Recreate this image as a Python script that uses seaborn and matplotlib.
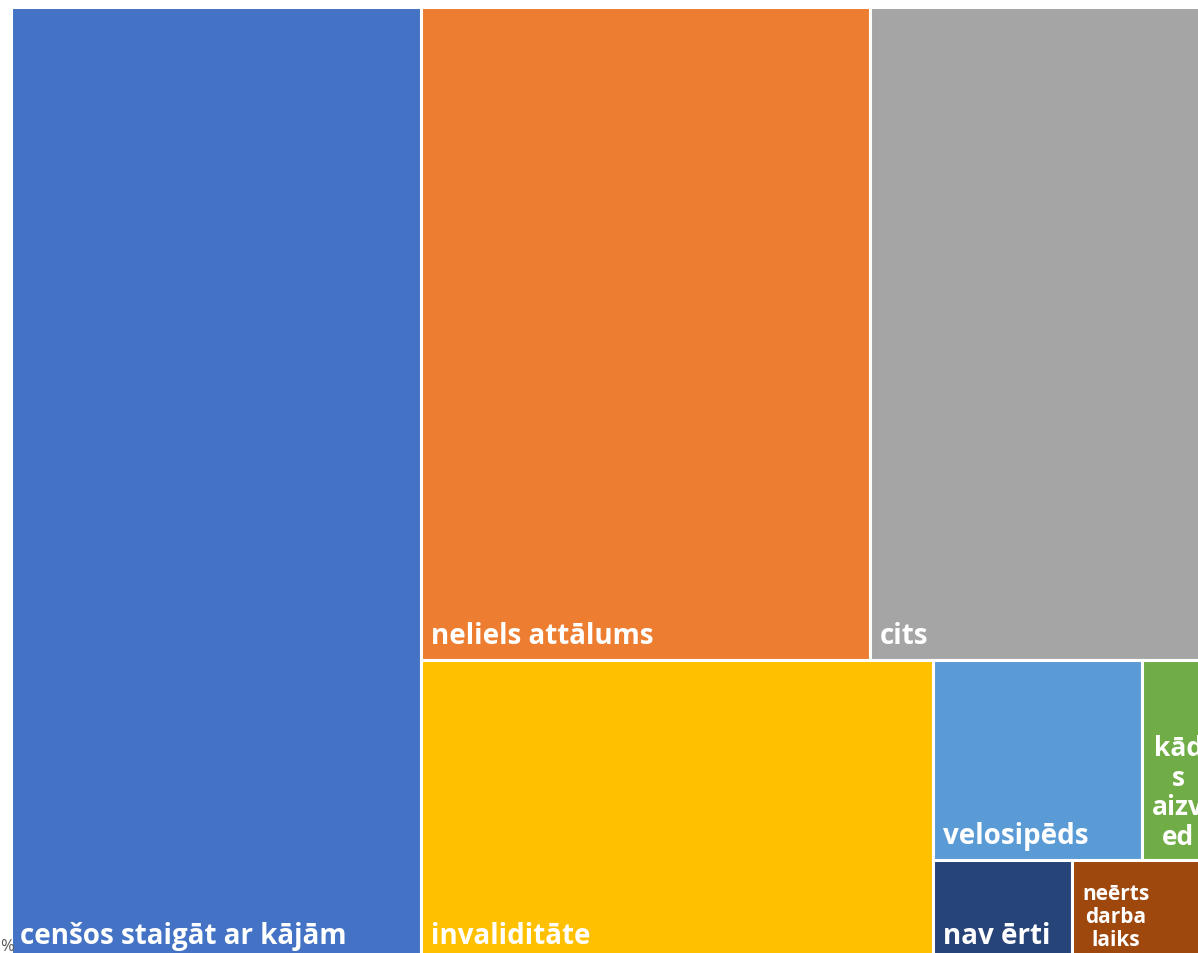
import matplotlib
matplotlib.use("Agg")
import matplotlib.pyplot as plt
from matplotlib.patches import Rectangle
import seaborn as sns

# -------------------------------------------------------------------
# Data
# -------------------------------------------------------------------
categories = ["cenšos staigāt ar kājām", "neliels attālums", "cits", "invaliditāte",
              "velosipēds", "kāds aizved", "nav ērti", "neērts darba laiks"]
labels = ["cenšos staigāt ar kājām", "neliels attālums", "cits", "invaliditāte",
          "velosipēds", "kād\ns\naizv\ned", "nav ērti", "neērts\ndarba\nlaiks"]
counts = [28, 21, 16, 11, 3, 1, 1, 1]
colors = ["#4472C4", "#ED7D31", "#A5A5A5", "#FFC000",
          "#5B9BD5", "#70AD47", "#264478", "#9E480E"]
label_sizes = [20, 20, 20, 20, 20, 19, 20, 15]

# nesting of the tiles (indices into the lists above), split direction alternates
tree = [0, [[1, 2], [3, [[4, 5], [6, 7]]]]]

# -------------------------------------------------------------------
# Slice-and-dice layout
# -------------------------------------------------------------------
def total(node):
    if isinstance(node, int):
        return counts[node]
    return sum(total(c) for c in node)


def layout(node, x, y, w, h, horizontal, out):
    if isinstance(node, int):
        out[node] = (x, y, w, h)
        return
    t = total(node)
    for child in node:
        frac = total(child) / t
        if horizontal:
            layout(child, x, y, w * frac, h, not horizontal, out)
            x += w * frac
        else:
            layout(child, x, y, w, h * frac, not horizontal, out)
            y += h * frac


rects = {}
layout(tree, 0.0, 0.0, 1.0, 1.0, True, rects)

# -------------------------------------------------------------------
# Plot
# -------------------------------------------------------------------
sns.set_theme(style="white")
plt.rcParams['font.family'] = ['Open Sans', 'DejaVu Sans']
palette = sns.color_palette(colors)

fig = plt.figure(figsize=(11.98, 9.54), dpi=100)
# plot area runs slightly past the right/bottom edge, like the reference crop
ax = fig.add_axes([10.5 / 1198, 1 - 961 / 954, 1201.5 / 1198, 953.5 / 954])
ax.set_xlim(0, 1)
ax.set_ylim(1, 0)
ax.axis("off")

for i, name in enumerate(categories):
    x, y, w, h = rects[i]
    ax.add_patch(Rectangle((x, y), w, h, facecolor=palette[i],
                           edgecolor="white", linewidth=2.2))
    ax.annotate(labels[i], xy=(x, y + h), xytext=(10, 10),
                textcoords="offset pixels", ha="left", va="bottom",
                multialignment="center", color="white", fontweight="bold",
                fontsize=label_sizes[i], linespacing=1.12,
                annotation_clip=False)

fig.text(0 / 1198, 1 - 939 / 954, "%", fontsize=12, color="#595959",
         ha="left", va="top")

fig.savefig("out.png", dpi=100)
